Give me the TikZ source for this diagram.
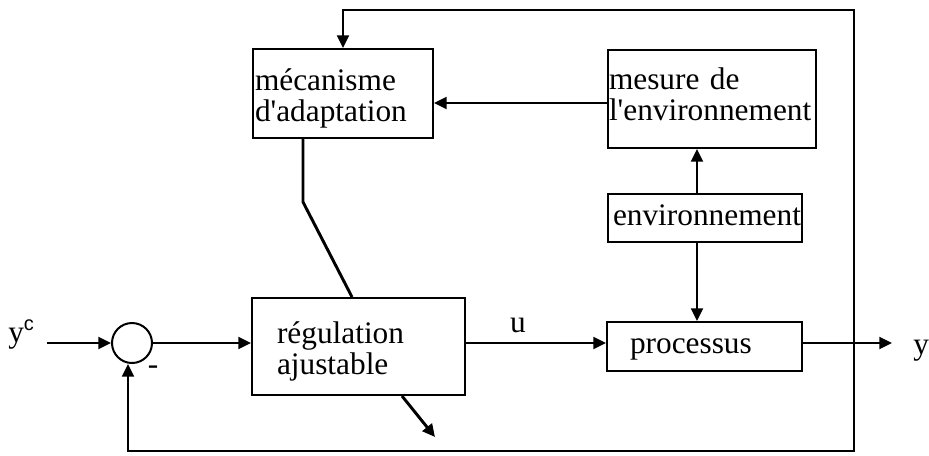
\documentclass[tikz,border=0pt]{standalone}
\usepackage{fontspec}
\setmainfont{Liberation Serif}
\setsansfont{Liberation Sans}
\usetikzlibrary{arrows.meta}
\begin{document}
\begin{tikzpicture}[x=0.75pt,y=-0.75pt,
  every node/.style={font=\fontsize{23.5}{23.25}\selectfont},
  blk/.style={draw, line width=1.5pt, inner ysep=0pt, align=left, text height=15pt},
  ln/.style={line width=1.5pt},
  tip/.style={-{Triangle[length=9.5pt,width=9pt]}},
  arr/.style={line width=1.6pt, tip},
  slant/.style={line width=2.2pt}
]
% canvas
\useasboundingbox[fill=white] (0,0) rectangle (929,455);

% blocks
\node[blk, minimum width=135pt, minimum height=66.75pt, inner xsep=1.5pt, text width=132pt, text depth=20.2pt]
  (mec) at (343,93.5) {mécanisme\\d\textquotesingle adaptation};
\node[blk, minimum width=156pt, minimum height=73.5pt, inner xsep=0.75pt, text width=154.5pt, text depth=30pt]
  (mes) at (712,99) {mesure de\\l\textquotesingle environnement};
\node[blk, minimum width=145.5pt, minimum height=36pt, inner xsep=3.75pt, text width=138pt, text height=15.5pt, text depth=5pt]
  (env) at (705,218) {environnement};
\node[blk, minimum width=159.75pt, minimum height=72.75pt, inner xsep=18.75pt, text width=122.25pt, text depth=20.2pt]
  (reg) at (358.5,346.5) {régulation\\ajustable};
\node[blk, minimum width=146.25pt, minimum height=36.75pt, inner xsep=17.25pt, text width=111.75pt, text height=14.8pt, text depth=5pt]
  (proc) at (704.5,346.5) {processus};

% summing junction
\node[draw, circle, line width=1.5pt, minimum size=30pt, inner sep=0pt] (sum) at (132,343) {};

% labels
\node[anchor=base west, inner sep=0pt] (yc) at (8,342)
  {y\raisebox{9pt}{\fontsize{15}{15}\sffamily c}};
\node[anchor=base west, inner sep=0pt] (yout) at (913,354) {y};
\node[anchor=base, inner sep=0pt] (ulab) at (518,332) {u};
\node[inner sep=0pt] (minus) at (153,370) {-};

% helper points
\coordinate (yin) at (47,343);
\coordinate (yend) at (892,343);
\coordinate (tap) at (854,343);
\coordinate (tr) at (854,10);
\coordinate (br) at (854,451);
\coordinate (fb) at (128,451);
\coordinate (vx) at (697,0);
\coordinate (ay) at (0,103);
\coordinate (kink) at (303,202);
\coordinate (kx) at (352,0);
\coordinate (ax) at (402,0);
\coordinate (adj) at (435,437);

% main signal path
\draw[arr] (yin) -- (sum.west);
\draw[arr] (sum.east) -- (sum -| reg.west);
\draw[arr] (reg.east |- sum) -- (proc.west |- sum);
\draw[arr] (proc.east |- sum) -- (yend);

% environment measurement
\draw[arr] (env.north -| vx) -- (mes.south -| vx);
\draw[arr] (env.south -| vx) -- (proc.north -| vx);
\draw[arr] (mes.west |- ay) -- (mec.east |- ay);

% output feedback loops
\draw[arr] (tap) -- (tr) -| (mec.north);
\draw[arr] (tap) -- (br) -- (fb) -- (fb |- sum.south);

% adaptation acting on the controller
\draw[slant] (mec.south -| kink) -- (kink) -- (reg.north -| kx);
\draw[slant, tip] (reg.south -| ax) -- (adj);
\end{tikzpicture}
\end{document}
